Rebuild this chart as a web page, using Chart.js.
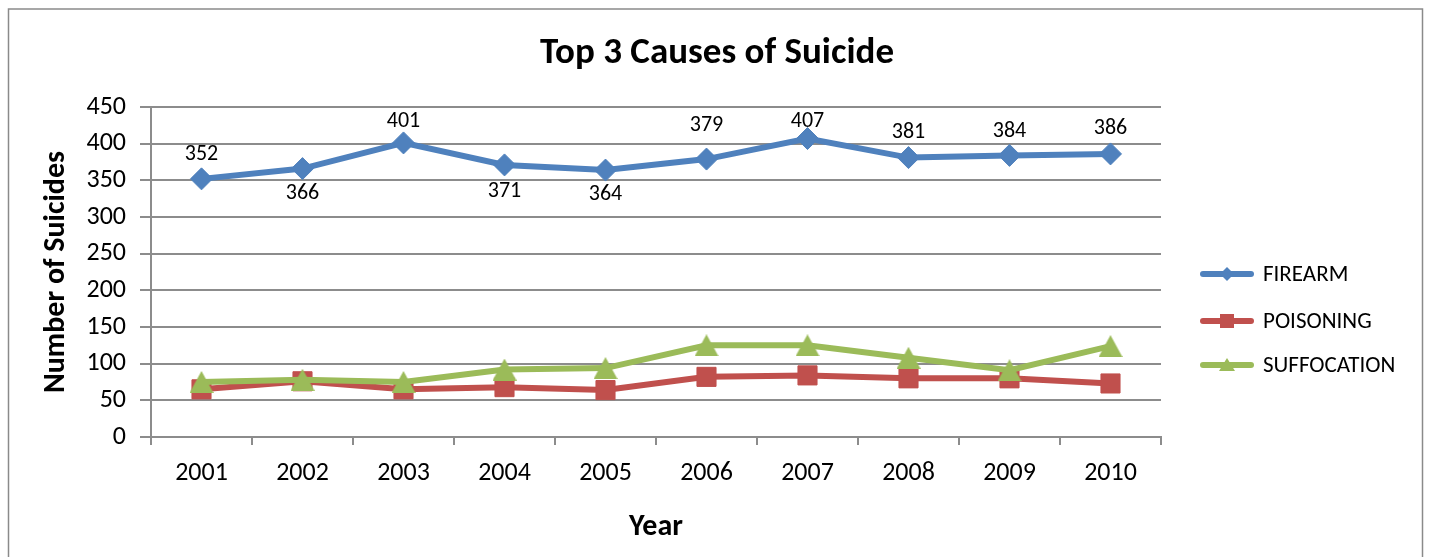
<!DOCTYPE html>
<html><head><meta charset="utf-8">
<script src="https://cdn.jsdelivr.net/npm/chart.js@4.4.1/dist/chart.umd.min.js"></script>
<style>html,body{margin:0;padding:0;background:#fff}canvas{display:block}</style>
</head><body>
<canvas id="c" width="1432" height="557"></canvas>
<script>
const years = ['2001','2002','2003','2004','2005','2006','2007','2008','2009','2010'];
const firearm = [352,366,401,371,364,379,407,381,384,386];
const poisoning = [65,76,65,68,64,82,84,80,80,73];
const suffocation = [75,78,75,92,94,125,125,108,91,124];
const seriesNames = ['FIREARM','POISONING','SUFFOCATION'];
const yMin = 0, yMax = 450, yStep = 50;

const FONT = 'Carlito, Lato, sans-serif';
const BLUE = '#4F81BD', RED = '#C0504D', GREEN = '#9BBB59', GRID = '#8c8c8c';

function triCanvas(w, h, color) {
  const c = document.createElement('canvas');
  c.width = w; c.height = h;
  const g = c.getContext('2d');
  g.fillStyle = color;
  g.beginPath(); g.moveTo(w/2, 0); g.lineTo(w, h); g.lineTo(0, h); g.closePath(); g.fill();
  return c;
}
const triBig = triCanvas(24, 22, GREEN);

// label placement style: vertical offset (px) of each FIREARM value label from its point
const labelOffsets = [-24,25,-21,27,24,-34,-17,-25,-24,-25];

const decor = {
  id: 'decor',
  beforeDraw(chart) {
    const ctx = chart.ctx;
    ctx.save();
    ctx.fillStyle = '#fff';
    ctx.fillRect(0, 0, chart.width, chart.height);
    ctx.strokeStyle = '#8a8a8a';
    ctx.lineWidth = 1.5;
    ctx.strokeRect(8.5, 9, 1414, 600);
    ctx.restore();
  },
  afterDraw(chart) {
    const ctx = chart.ctx;
    ctx.save();
    // title
    ctx.fillStyle = '#000';
    ctx.font = 'bold 37px ' + FONT;
    ctx.textAlign = 'center';
    ctx.textBaseline = 'middle';
    ctx.fillText('Top 3 Causes of Suicide', 717, 54);
    // data labels
    const meta = chart.getDatasetMeta(0);
    ctx.font = '22px ' + FONT;
    meta.data.forEach((pt, i) => {
      ctx.fillText(String(firearm[i]), pt.x, pt.y + labelOffsets[i]);
    });
    // legend
    const ys = [274, 321, 365];
    const cols = [BLUE, RED, GREEN];
    ctx.textAlign = 'left';
    ctx.font = '23px ' + FONT;
    for (let k = 0; k < 3; k++) {
      const y = ys[k];
      ctx.strokeStyle = cols[k];
      ctx.lineWidth = 6;
      ctx.lineCap = 'round';
      ctx.beginPath(); ctx.moveTo(1203, y); ctx.lineTo(1251, y); ctx.stroke();
      ctx.fillStyle = cols[k];
      const cx = 1227;
      ctx.beginPath();
      if (k === 0) {
        ctx.moveTo(cx, y - 7); ctx.lineTo(cx + 7, y); ctx.lineTo(cx, y + 7); ctx.lineTo(cx - 7, y); ctx.closePath();
      } else if (k === 1) {
        ctx.rect(cx - 7, y - 7, 14, 14);
      } else {
        ctx.moveTo(cx, y - 7); ctx.lineTo(cx + 8, y + 6); ctx.lineTo(cx - 8, y + 6); ctx.closePath();
      }
      ctx.fill();
      ctx.fillStyle = '#000';
      ctx.fillText(seriesNames[k], 1263, y + 1);
    }
    ctx.restore();
  }
};

new Chart(document.getElementById('c'), {
  type: 'line',
  data: {
    labels: years,
    datasets: [
      { label: seriesNames[0], data: firearm, borderColor: BLUE, backgroundColor: BLUE,
        borderWidth: 6, pointStyle: 'rectRot', pointRadius: 11, pointBorderWidth: 1,
        pointBorderColor: BLUE, pointBackgroundColor: BLUE, tension: 0, order: 2 },
      { label: seriesNames[1], data: poisoning, borderColor: RED, backgroundColor: RED,
        borderWidth: 6, pointStyle: 'rect', pointRadius: 13.5, pointBorderWidth: 1,
        pointBorderColor: RED, pointBackgroundColor: RED, tension: 0, order: 1 },
      { label: seriesNames[2], data: suffocation, borderColor: GREEN, backgroundColor: GREEN,
        borderWidth: 6, pointStyle: triBig, pointRadius: 12, tension: 0, order: 0 }
    ]
  },
  options: {
    responsive: false,
    animation: false,
    devicePixelRatio: 1,
    layout: { padding: { top: 107, right: 271, bottom: 0, left: 0 } },
    plugins: { legend: { display: false }, title: { display: false }, tooltip: { enabled: false } },
    scales: {
      x: {
        offset: true,
        afterFit(s) { s.height = 120; },
        grid: { display: true, offset: true, drawOnChartArea: false, drawTicks: true, tickLength: 8, color: GRID, lineWidth: 2 },
        border: { display: true, color: GRID, width: 2 },
        ticks: { color: '#000', font: { family: FONT, size: 26 }, padding: 13, maxRotation: 0 },
        title: { display: true, text: 'Year', color: '#000', font: { family: FONT, size: 30, weight: 'bold' }, padding: { bottom: 12, top: 0 } }
      },
      y: {
        min: yMin, max: yMax,
        afterFit(s) { s.width = 151; },
        grid: { display: true, drawOnChartArea: true, drawTicks: true, tickLength: 11, color: GRID, lineWidth: 2 },
        border: { display: true, color: GRID, width: 2 },
        ticks: { stepSize: yStep, color: '#000', font: { family: FONT, size: 26 }, padding: 14 },
        title: { display: true, text: 'Number of Suicides', color: '#000', font: { family: FONT, size: 30, weight: 'bold' }, padding: { top: 38, bottom: 0 } }
      }
    }
  },
  plugins: [decor]
});
</script>
</body></html>
